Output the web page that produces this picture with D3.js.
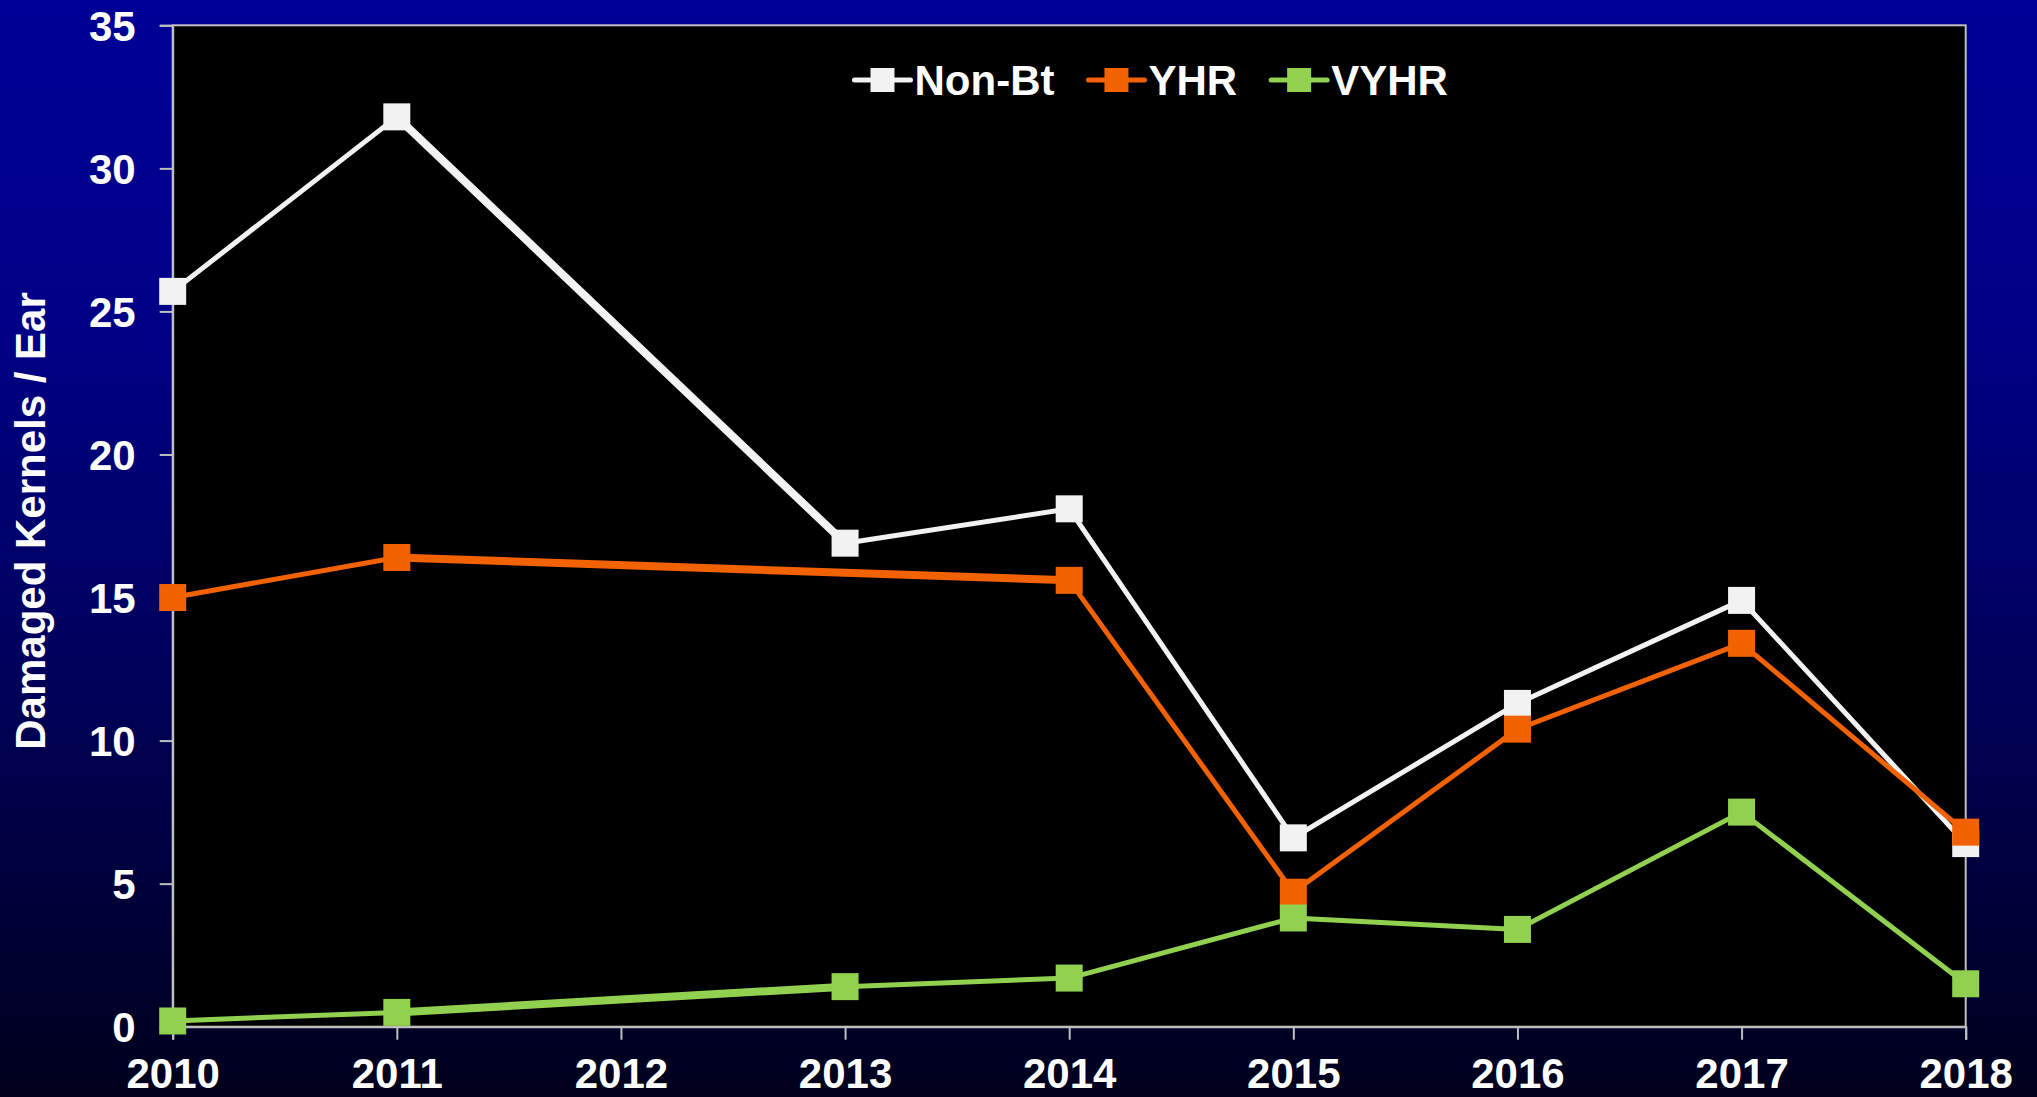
<!DOCTYPE html>
<html>
<head>
<meta charset="utf-8">
<script src="https://cdn.jsdelivr.net/npm/d3@7"></script>
<style>
  html, body { margin: 0; padding: 0; background: #000033; }
  svg { display: block; }
  text { font-family: "Liberation Sans", Arial, sans-serif; font-weight: bold; fill: #ffffff; }
</style>
</head>
<body>
<svg id="chart" width="2037" height="1097"></svg>
<script>
// ---- data ----
const years = [2010, 2011, 2012, 2013, 2014, 2015, 2016, 2017, 2018];
const nonBt = [25.7, 31.8, null, 16.9, 18.1, 6.6, 11.3, 14.9, 6.4];
const yhr   = [15.0, 16.4, null, null, 15.6, 4.7, 10.4, 13.4, 6.8];
const vyhr  = [0.2, 0.5, null, 1.4, 1.7, 3.8, 3.4, 7.5, 1.5];
const seriesNames = ["Non-Bt", "YHR", "VYHR"];
const seriesColors = ["#f2f2f2", "#f26200", "#92d050"];
const yTicks = [0, 5, 10, 15, 20, 25, 30, 35];
const yTitle = "Damaged Kernels / Ear";

const seriesValues = [nonBt, yhr, vyhr];
const W = 2037, H = 1097;
const plot = { left: 172.7, right: 1965.7, top: 25.3, bottom: 1026.7 };

const svg = d3.select("#chart");

// background gradient
const defs = svg.append("defs");
const grad = defs.append("linearGradient").attr("id", "bg")
  .attr("x1", 0).attr("y1", 0).attr("x2", 0).attr("y2", 1);
grad.append("stop").attr("offset", "0%").attr("stop-color", "#000096");
grad.append("stop").attr("offset", "30%").attr("stop-color", "#000086");
grad.append("stop").attr("offset", "65%").attr("stop-color", "#000055");
grad.append("stop").attr("offset", "100%").attr("stop-color", "#00001c");
svg.append("rect").attr("width", W).attr("height", H).attr("fill", "url(#bg)");

const x = d3.scaleLinear().domain([years[0], years[years.length - 1]]).range([plot.left, plot.right]);
const y = d3.scaleLinear().domain([0, 35]).range([plot.bottom, plot.top]);

// plot area
svg.append("rect")
  .attr("x", plot.left).attr("y", plot.top)
  .attr("width", plot.right - plot.left).attr("height", plot.bottom - plot.top)
  .attr("fill", "#000000").attr("stroke", "#bfbfbf").attr("stroke-width", 2);

// axes
const axisColor = "#bfbfbf";
const yAxis = svg.append("g").attr("transform", `translate(${plot.left},0)`)
  .call(d3.axisLeft(y).tickValues(yTicks).tickSize(13).tickPadding(24).tickFormat(d3.format("d")));
const xAxis = svg.append("g").attr("transform", `translate(0,${plot.bottom})`)
  .call(d3.axisBottom(x).tickValues(years).tickSize(13).tickPadding(18).tickFormat(d3.format("d")));
[yAxis, xAxis].forEach(g => {
  g.select(".domain").attr("stroke", axisColor).attr("stroke-width", 2);
  g.selectAll(".tick line").attr("stroke", axisColor).attr("stroke-width", 2);
  g.selectAll(".tick text").attr("fill", "#ffffff").style("font-size", "42px")
    .style("font-family", "'Liberation Sans', Arial, sans-serif").style("font-weight", "bold");
});
yAxis.selectAll(".tick text").attr("dy", "0.35em");
xAxis.selectAll(".tick text").attr("dy", "0.71em");

// y title
svg.append("text")
  .attr("transform", `translate(45,521) rotate(-90)`)
  .attr("text-anchor", "middle")
  .style("font-size", "42px")
  .text(yTitle);

// series
const line = d3.line().x(d => x(d.year)).y(d => y(d.value));
const markerSize = 27;
seriesValues.forEach((vals, si) => {
  const pts = years.map((yr, i) => ({ year: yr, value: vals[i] })).filter(d => d.value !== null);
  const g = svg.append("g");
  const segs = d3.pairs(pts);
  g.selectAll("path").data(segs).join("path")
    .attr("d", d => line(d))
    .attr("fill", "none")
    .attr("stroke", seriesColors[si])
    .attr("stroke-width", d => (d[1].year - d[0].year > 1) ? 8 : 5)
    .attr("stroke-linecap", "butt");
  g.selectAll("rect").data(pts).join("rect")
    .attr("x", d => x(d.year) - markerSize / 2)
    .attr("y", d => y(d.value) - markerSize / 2)
    .attr("width", markerSize).attr("height", markerSize)
    .attr("fill", seriesColors[si]);
});

// legend
const legend = svg.append("g");
let lx = 854.5;
const ly = 80;
seriesNames.forEach((name, si) => {
  const item = legend.append("g");
  item.append("line").attr("x1", lx).attr("x2", lx + 56).attr("y1", ly).attr("y2", ly)
    .attr("stroke", seriesColors[si]).attr("stroke-width", 5).attr("stroke-linecap", "round");
  item.append("rect").attr("x", lx + 16).attr("y", ly - 12).attr("width", 24).attr("height", 24)
    .attr("fill", seriesColors[si]);
  const t = item.append("text").attr("x", lx + 60).attr("y", ly + 15)
    .style("font-size", "42px").text(name);
  const w = t.node().getComputedTextLength();
  lx = lx + 60 + w + 34;
});
</script>
</body>
</html>
